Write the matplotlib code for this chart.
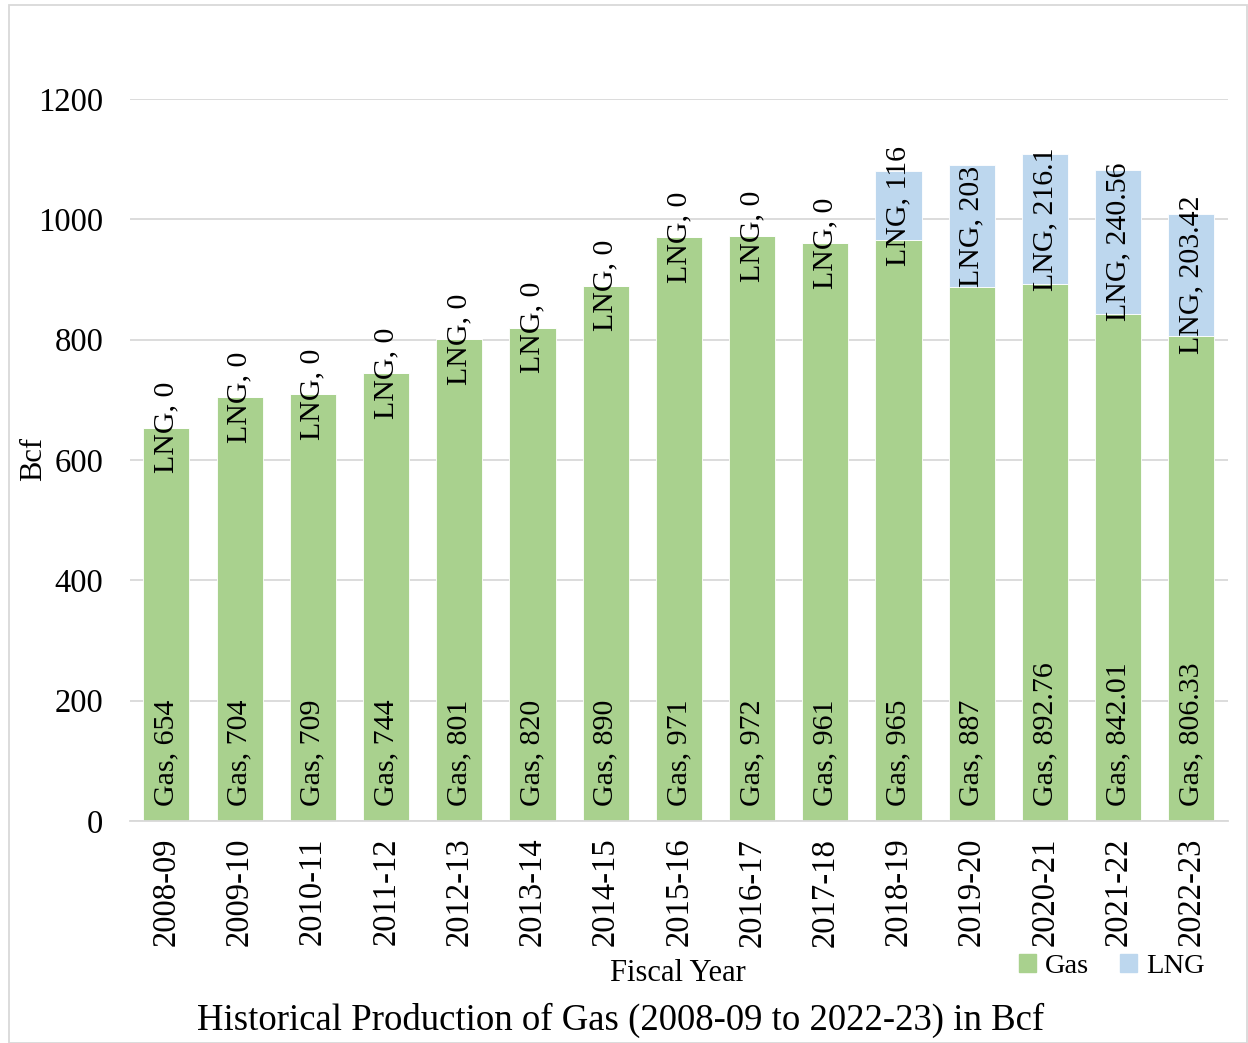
import numpy as np
import matplotlib
matplotlib.use('Agg')
import matplotlib.pyplot as plt
from matplotlib.patches import Rectangle, Patch

# dados
anos = ['2008-09', '2009-10', '2010-11', '2011-12', '2012-13', '2013-14', '2014-15',
        '2015-16', '2016-17', '2017-18', '2018-19', '2019-20', '2020-21', '2021-22', '2022-23']
gas = [654, 704, 709, 744, 801, 820, 890, 971, 972, 961, 965, 887, 892.76, 842.01, 806.33]
lng = [0, 0, 0, 0, 0, 0, 0, 0, 0, 0, 116, 203, 216.1, 240.56, 203.42]
gas_txt = ['654', '704', '709', '744', '801', '820', '890', '971', '972', '961', '965',
           '887', '892.76', '842.01', '806.33']
lng_txt = ['0', '0', '0', '0', '0', '0', '0', '0', '0', '0', '116', '203', '216.1',
           '240.56', '203.42']
y_ticks = [0, 200, 400, 600, 800, 1000, 1200]

plt.rcParams['font.family'] = ['Liberation Serif', 'DejaVu Serif']

cor_gas = '#A9D18E'
cor_lng = '#BDD7EE'

fig = plt.figure(figsize=(12.48, 10.43), dpi=100)
ax = fig.add_axes([0.104, 0.2128, 0.88, 0.6922])

x = np.arange(len(anos))
ax.bar(x, gas, width=0.63, color=cor_gas, edgecolor='white', linewidth=0.6, zorder=2, label='Gas')
ax.bar(x, lng, width=0.63, bottom=gas, color=cor_lng, edgecolor='white', linewidth=0.6,
       zorder=2, label='LNG')

fs_lab = 21.5
fs_tick = 23.5
for i in range(len(anos)):
    ax.annotate(f'Gas, {gas_txt[i]}', (x[i], 0), xytext=(0, 11), textcoords='offset points',
                rotation=90, ha='center', va='bottom', fontsize=fs_lab, zorder=3)
    ax.text(x[i], gas[i] + lng[i] / 2, f'LNG, {lng_txt[i]}', rotation=90,
            ha='center', va='center', fontsize=fs_lab, zorder=3)

ax.set_xlim(-0.5, len(anos) - 0.5)
ax.set_ylim(0, 1200)
ax.set_yticks(y_ticks)
ax.set_xticks(x)
ax.set_xticklabels(anos, rotation=90, fontsize=fs_tick)
ax.tick_params(axis='y', labelsize=fs_tick, length=0, pad=19)
ax.tick_params(axis='x', length=0, pad=12)
ax.grid(axis='y', color='#D9D9D9', linewidth=1.3, zorder=0)
ax.set_axisbelow(True)
for s in ['top', 'right', 'left']:
    ax.spines[s].set_visible(False)
ax.spines['bottom'].set_color('#D9D9D9')
ax.spines['bottom'].set_linewidth(1.3)

fig.text(0.027, 0.56, 'Bcf', rotation=90, fontsize=22, ha='center', va='center')
fig.text(0.543, 0.067, 'Fiscal Year', fontsize=22, ha='center', va='center')
fig.text(0.497, 0.022, 'Historical Production of Gas (2008-09 to 2022-23) in Bcf',
         fontsize=26.5, ha='center', va='center')

handles = [Patch(color=cor_gas, label='Gas'), Patch(color=cor_lng, label='LNG')]
fig.legend(handles=handles, loc='center', bbox_to_anchor=(0.891, 0.073), ncol=2,
           frameon=False, fontsize=20.5, handlelength=0.6, handleheight=0.6,
           handletextpad=0.3, columnspacing=1.1)

# moldura
fig.patches.append(Rectangle((0.007, 0.0), 0.992, 0.995, transform=fig.transFigure,
                             fill=False, edgecolor='#D9D9D9', linewidth=1.3))

plt.savefig('out.png', dpi=100)
